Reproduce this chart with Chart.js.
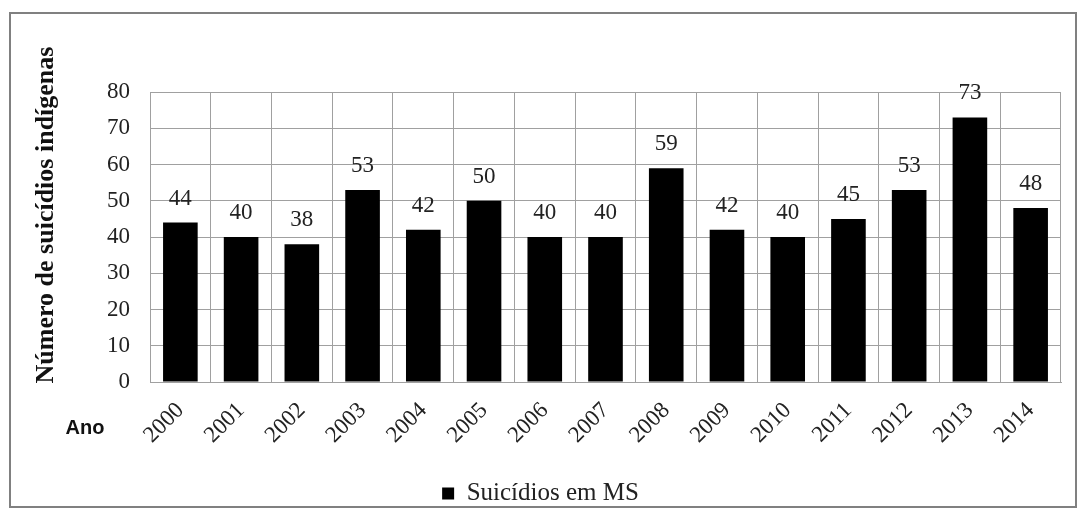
<!DOCTYPE html>
<html>
<head>
<meta charset="utf-8">
<script src="https://cdn.jsdelivr.net/npm/chart.js@4"></script>
<style>
  html, body { margin: 0; padding: 0; background: #fff; }
  #wrap { width: 1079px; height: 511px; position: relative; }
</style>
</head>
<body>
<div id="wrap"><canvas id="myChart"></canvas></div>
<script>
// data
const years = ["2000", "2001", "2002", "2003", "2004", "2005", "2006", "2007",
  "2008", "2009", "2010", "2011", "2012", "2013", "2014"];
const suicides = [44, 40, 38, 53, 42, 50, 40, 40, 59, 42, 40, 45, 53, 73, 48];
const seriesName = "Suicídios em MS";
const yTitle = "Número de suicídios indígenas";
const xCaption = "Ano";

const serif = "'Liberation Serif', 'Times New Roman', serif";

// frame round the chart, the y title, the "Ano" caption and the value labels
const extras = {
  id: "extras",
  beforeDraw(chart) {
    const ctx = chart.ctx;
    ctx.save();
    ctx.strokeStyle = "#808080";
    ctx.lineWidth = 2;
    ctx.strokeRect(10, 13, 1066, 494);
    ctx.restore();
  },
  afterDatasetsDraw(chart) {
    const ctx = chart.ctx;
    ctx.save();
    ctx.font = "23px " + serif;
    ctx.fillStyle = "#222";
    ctx.textAlign = "center";
    ctx.textBaseline = "middle";
    chart.getDatasetMeta(0).data.forEach(function (bar, i) {
      ctx.fillText(suicides[i], bar.x, bar.y - 24);
    });
    ctx.font = "bold 20px 'Liberation Sans', Arial, sans-serif";
    ctx.fillStyle = "#111";
    ctx.fillText(xCaption, 85, 428);
    // y axis title, a little above the middle of the plot like the original
    ctx.translate(46, 215);
    ctx.rotate(-Math.PI / 2);
    ctx.font = "bold 26px " + serif;
    ctx.fillText(yTitle, 0, 0);
    ctx.restore();
  },
};

let myChart = document.getElementById("myChart");

new Chart(myChart, {
  type: "bar",
  data: {
    labels: years,
    datasets: [
      {
        label: seriesName,
        data: suicides,
        backgroundColor: "#000",
        borderWidth: 0,
        categoryPercentage: 1,
        barPercentage: 0.57,
      },
    ],
  },
  options: {
    responsive: true,
    maintainAspectRatio: false,
    animation: false,
    layout: { padding: { left: 20, right: 18, top: 92, bottom: -5 } },
    plugins: {
      legend: {
        position: "bottom",
        labels: {
          color: "#222",
          font: { family: serif, size: 25 },
          boxWidth: 12,
          boxHeight: 12,
          padding: 2,
        },
      },
      tooltip: { enabled: false },
    },
    scales: {
      x: {
        grid: { color: "#a0a0a0", drawTicks: false, offset: true },
        border: { color: "#a0a0a0" },
        ticks: {
          color: "#222",
          font: { family: serif, size: 23 },
          minRotation: 45,
          maxRotation: 45,
          padding: 15,
        },
        afterFit(scale) {
          scale.height = 97;
        },
      },
      y: {
        min: 0,
        max: 80,
        grid: { color: "#a0a0a0", drawTicks: false },
        border: { color: "#a0a0a0" },
        ticks: {
          stepSize: 10,
          color: "#222",
          font: { family: serif, size: 23 },
          padding: 20,
        },
        afterFit(scale) {
          scale.width = 130;
        },
      },
    },
  },
  plugins: [extras],
});
</script>
</body>
</html>
